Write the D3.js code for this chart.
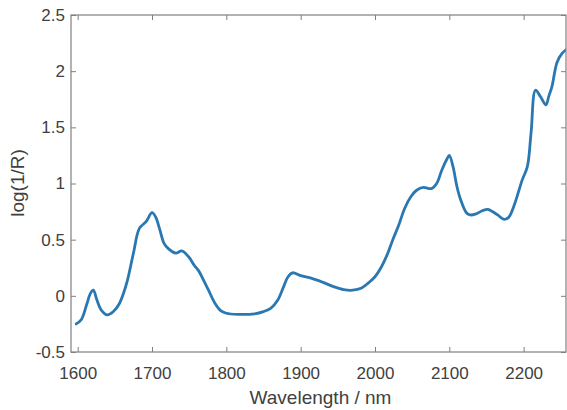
<!DOCTYPE html>
<html>
<head>
<meta charset="utf-8">
<script src="https://cdn.jsdelivr.net/npm/d3@7"></script>
<style>
html,body{margin:0;padding:0;background:#fff;}
svg{display:block;font-family:"Liberation Sans",Arial,Helvetica,sans-serif;}
</style>
</head>
<body>
<svg id="chart" width="567" height="410"></svg>
<script>
const wavelength = [1598,1605,1612,1617,1621,1626,1632,1640,1648,1656,1662,1667,1675,1683,1692,1700,1705,1710,1716,1722,1732,1740,1749,1757,1763,1770,1776,1785,1792,1800,1816,1838,1850,1860,1869,1877,1883,1889,1900,1915,1930,1945,1958,1970,1982,1992,2000,2008,2016,2024,2032,2040,2048,2056,2065,2076,2083,2090,2097,2100,2105,2110,2115,2123,2128,2136,2145,2152,2158,2165,2174,2180,2188,2198,2205,2210,2216,2223,2230,2234,2238,2245,2252,2257];
const logInvR = [-0.25,-0.21,-0.08,0.02,0.05,-0.04,-0.13,-0.17,-0.14,-0.07,0.03,0.14,0.38,0.60,0.66,0.74,0.70,0.60,0.47,0.42,0.38,0.40,0.35,0.27,0.22,0.13,0.05,-0.07,-0.13,-0.155,-0.165,-0.16,-0.14,-0.11,-0.04,0.08,0.17,0.205,0.18,0.155,0.12,0.08,0.055,0.05,0.07,0.12,0.17,0.25,0.36,0.50,0.63,0.78,0.88,0.94,0.965,0.955,1.0,1.12,1.22,1.25,1.15,0.98,0.86,0.74,0.72,0.73,0.76,0.77,0.75,0.72,0.68,0.70,0.82,1.03,1.15,1.45,1.83,1.77,1.70,1.78,1.86,2.08,2.16,2.19];
const xTicks = [1600,1700,1800,1900,2000,2100,2200];
const yTicks = [-0.5,0,0.5,1,1.5,2,2.5];
const xLabel = "Wavelength / nm";
const yLabel = "log(1/R)";

const L = 71, R = 566, T = 15, B = 352;
const svg = d3.select("#chart");
const x = d3.scaleLinear().domain([1591, 2257]).range([L, R]);
const y = d3.scaleLinear().domain([-0.5, 2.5]).range([B, T]);

svg.append("clipPath").attr("id","clip").append("rect")
  .attr("x", L).attr("y", T).attr("width", R-L).attr("height", B-T);

const line = d3.line().x((d,i)=>x(wavelength[i])).y(d=>y(d)).curve(d3.curveCatmullRom.alpha(0.5));
svg.append("path").datum(logInvR)
  .attr("clip-path","url(#clip)")
  .attr("d", line).attr("fill","none")
  .attr("stroke","#2a78b2").attr("stroke-width",2.8)
  .attr("stroke-linejoin","round").attr("stroke-linecap","round");

const axColor = "#808080";
const fmtY = d => d === 0 ? "0" : String(d);
function style(g){
  g.select(".domain").remove();
  g.selectAll(".tick line").attr("stroke", axColor).attr("stroke-width",1);
  g.selectAll(".tick text").attr("fill","#404040").attr("font-size","17px");
}
svg.append("g").attr("transform",`translate(0,${B})`)
  .call(d3.axisBottom(x).tickValues(xTicks).tickFormat(d3.format("d")).tickSizeInner(-5).tickSizeOuter(0).tickPadding(15))
  .call(style).attr("font-family",null);
svg.append("g").attr("transform",`translate(0,${T})`)
  .call(d3.axisTop(x).tickValues(xTicks).tickFormat("").tickSizeInner(-5).tickSizeOuter(0))
  .call(style);
svg.append("g").attr("transform",`translate(${L},0)`)
  .call(d3.axisLeft(y).tickValues(yTicks).tickFormat(fmtY).tickSizeInner(-5).tickSizeOuter(0).tickPadding(6))
  .call(style).attr("font-family",null);
svg.append("g").attr("transform",`translate(${R},0)`)
  .call(d3.axisRight(y).tickValues(yTicks).tickFormat("").tickSizeInner(-5).tickSizeOuter(0))
  .call(style);

svg.append("rect").attr("x",L).attr("y",T).attr("width",R-L).attr("height",B-T)
  .attr("fill","none").attr("stroke",axColor).attr("stroke-width",1.2);

svg.append("text").attr("x",(L+R)/2 + 2).attr("y",404)
  .attr("text-anchor","middle").attr("font-size","19px").attr("fill","#404040").text(xLabel);
svg.append("text").attr("transform",`translate(24,183) rotate(-90)`)
  .attr("text-anchor","middle").attr("font-size","19px").attr("fill","#404040").text(yLabel);
</script>
</body>
</html>
